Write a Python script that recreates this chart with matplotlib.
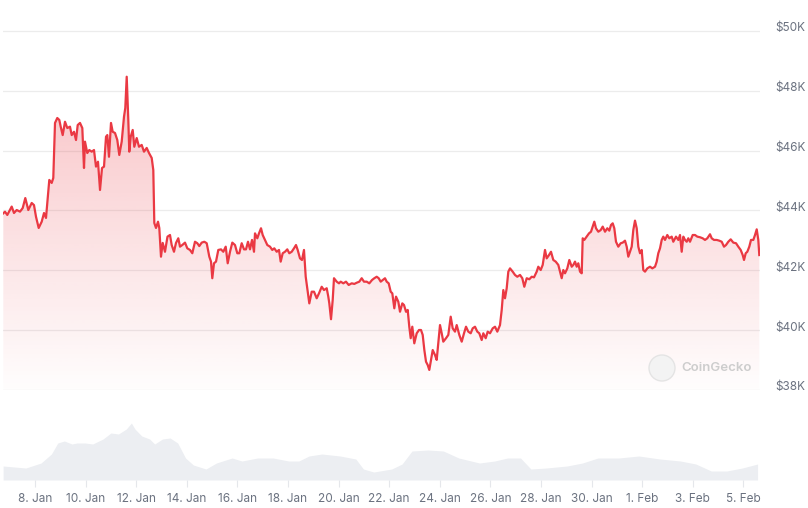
import numpy as np
import pandas as pd
import matplotlib
matplotlib.use("Agg")
import matplotlib.pyplot as plt
import matplotlib.dates as mdates
import matplotlib.transforms as mtransforms
from matplotlib.patches import Ellipse

plt.rcParams['font.family'] = ['Inter', 'DejaVu Sans']

# price readings: days after 2024-01-08 00:00, price in USD
days = [-1.253, -1.186, -1.095, -0.921, -0.830, -0.723, -0.593, -0.486, -0.383, -0.265,
        -0.130, -0.040, 0.040, 0.146, 0.265, 0.356, 0.435, 0.565, 0.660, 0.723,
        0.791, 0.881, 0.961, 1.016, 1.095, 1.186, 1.277, 1.383, 1.451, 1.542,
        1.621, 1.688, 1.779, 1.870, 1.937, 1.976, 2.067, 2.146, 2.241, 2.332,
        2.411, 2.490, 2.570, 2.649, 2.728, 2.807, 2.858, 2.925, 3.004, 3.071,
        3.162, 3.253, 3.332, 3.427, 3.518, 3.569, 3.625, 3.688, 3.727, 3.783,
        3.862, 3.925, 4.020, 4.111, 4.217, 4.308, 4.415, 4.506, 4.613, 4.676,
        4.716, 4.783, 4.862, 4.913, 4.980, 5.047, 5.138, 5.237, 5.336, 5.403,
        5.494, 5.573, 5.664, 5.731, 5.822, 5.929, 6.020, 6.127, 6.218, 6.324,
        6.415, 6.494, 6.589, 6.692, 6.787, 6.890, 6.957, 7.008, 7.075, 7.154,
        7.245, 7.352, 7.443, 7.538, 7.617, 7.708, 7.799, 7.905, 7.996, 8.075,
        8.170, 8.261, 8.340, 8.419, 8.498, 8.577, 8.656, 8.696, 8.787, 8.854,
        8.933, 9.000, 9.091, 9.182, 9.289, 9.379, 9.458, 9.553, 9.644, 9.711,
        9.791, 9.881, 9.972, 10.051, 10.146, 10.237, 10.316, 10.383, 10.474, 10.553,
        10.632, 10.700, 10.763, 10.842, 10.937, 11.028, 11.134, 11.225, 11.332, 11.423,
        11.530, 11.593, 11.633, 11.700, 11.767, 11.818, 11.925, 12.016, 12.083, 12.186,
        12.292, 12.399, 12.518, 12.621, 12.716, 12.818, 12.913, 13.004, 13.111, 13.213,
        13.320, 13.411, 13.506, 13.585, 13.664, 13.743, 13.834, 13.901, 13.980, 14.059,
        14.123, 14.202, 14.269, 14.360, 14.427, 14.518, 14.585, 14.664, 14.731, 14.794,
        14.850, 14.913, 14.992, 15.087, 15.178, 15.257, 15.324, 15.389, 15.455, 15.522,
        15.585, 15.652, 15.720, 15.810, 15.877, 15.941, 16.008, 16.075, 16.138, 16.245,
        16.336, 16.431, 16.510, 16.601, 16.668, 16.771, 16.866, 16.957, 17.036, 17.126,
        17.221, 17.300, 17.391, 17.482, 17.561, 17.656, 17.720, 17.814, 17.893, 17.984,
        18.091, 18.182, 18.273, 18.379, 18.447, 18.510, 18.577, 18.644, 18.708, 18.775,
        18.881, 18.972, 19.063, 19.170, 19.261, 19.340, 19.435, 19.538, 19.632, 19.723,
        19.830, 19.893, 19.988, 20.067, 20.158, 20.225, 20.316, 20.395, 20.486, 20.581,
        20.684, 20.751, 20.818, 20.881, 20.949, 21.040, 21.119, 21.214, 21.277, 21.344,
        21.411, 21.474, 21.542, 21.609, 21.648, 21.711, 21.806, 21.897, 21.976, 22.043,
        22.107, 22.174, 22.265, 22.360, 22.439, 22.530, 22.621, 22.700, 22.767, 22.834,
        22.897, 22.964, 23.055, 23.150, 23.229, 23.320, 23.387, 23.451, 23.518, 23.585,
        23.648, 23.715, 23.783, 23.846, 23.913, 23.980, 24.043, 24.111, 24.202, 24.308,
        24.399, 24.506, 24.573, 24.636, 24.704, 24.771, 24.834, 24.901, 24.992, 25.071,
        25.166, 25.229, 25.336, 25.427, 25.494, 25.561, 25.625, 25.692, 25.759, 25.822,
        25.889, 25.996, 26.087, 26.178, 26.285, 26.391, 26.482, 26.573, 26.680, 26.747,
        26.838, 26.945, 27.047, 27.142, 27.233, 27.312, 27.403, 27.498, 27.601, 27.708,
        27.798, 27.893, 27.972, 28.024, 28.091, 28.154, 28.233, 28.300, 28.391, 28.459,
        28.526, 28.589, 28.628]
price = [43905, 43960, 43850, 44130, 43915, 44015, 43960, 44080, 44415, 44015,
         44250, 44180, 43790, 43415, 43625, 43915, 43750, 45020, 44920, 45085,
         46925, 47090, 47025, 46800, 46520, 46965, 46755, 46800, 46520, 46630,
         46355, 46855, 46925, 46755, 45420, 46300, 45920, 46020, 45965, 46020,
         45465, 45630, 44685, 45420, 45465, 46465, 46520, 45795, 46925, 46630,
         46590, 46355, 45855, 46300, 47135, 47425, 48470, 47025, 45965, 46465,
         46690, 46130, 46420, 46130, 46190, 45965, 46090, 45920, 45755, 45350,
         43580, 43415, 43625, 43415, 42455, 42915, 42620, 43125, 43180, 42845,
         42620, 42915, 43070, 42790, 42845, 42925, 42735, 42680, 42570, 42955,
         42905, 42810, 42925, 42955, 42905, 42455, 42290, 41735, 42235, 42290,
         42680, 42700, 42620, 42790, 42235, 42620, 42925, 42845, 42570, 42570,
         42905, 42700, 42700, 42955, 42700, 43015, 42620, 43235, 43070, 43235,
         43405, 43180, 43015, 42845, 42790, 42680, 42735, 42620, 42680, 42290,
         42570, 42620, 42700, 42570, 42620, 42735, 42845, 42680, 42400, 42345,
         42680, 41785, 41400, 40895, 41285, 41285, 41065, 41230, 41450, 41340,
         41400, 41120, 40895, 40365, 41010, 41735, 41620, 41565, 41620, 41565,
         41620, 41510, 41565, 41545, 41585, 41620, 41735, 41620, 41620, 41565,
         41675, 41735, 41785, 41735, 41620, 41675, 41735, 41620, 41565, 41285,
         41230, 40730, 41120, 40950, 40615, 40895, 40840, 40615, 40675, 40115,
         39730, 40115, 39560, 39895, 40005, 40005, 39840, 39335, 38945, 38835,
         38670, 39005, 39335, 39170, 39005, 39560, 40170, 39895, 39615, 39730,
         39840, 40450, 40060, 39950, 40170, 39840, 39615, 39895, 40115, 39950,
         39895, 40060, 40115, 39950, 39895, 39670, 39895, 39730, 39950, 39895,
         40060, 40115, 39950, 40170, 40675, 41340, 41065, 41400, 41955, 42065,
         41955, 41845, 41785, 41845, 41735, 41450, 41735, 41700, 41785, 41765,
         41955, 42120, 42010, 42180, 42680, 42400, 42510, 42620, 42345, 42290,
         42180, 41955, 41735, 42010, 41900, 42065, 42345, 42120, 42180, 42290,
         42120, 42235, 41955, 41900, 43070, 43015, 43125, 43235, 43290, 43460,
         43625, 43405, 43290, 43345, 43460, 43290, 43405, 43325, 43515, 43570,
         43405, 42955, 42790, 42905, 42925, 42990, 42790, 42455, 42620, 42790,
         43345, 43660, 43405, 42790, 42570, 42680, 42010, 41955, 42065, 42120,
         42065, 42120, 42290, 42570, 42735, 43015, 43125, 43015, 43180, 43070,
         43125, 42955, 43125, 43015, 43180, 42620, 43125, 43015, 42955, 43070,
         42955, 43180, 43180, 43125, 43105, 43070, 43015, 43070, 43205, 43070,
         43015, 43015, 42990, 42955, 42790, 42845, 42955, 43035, 42925, 42905,
         42790, 42680, 42510, 42345, 42570, 42620, 42790, 43015, 43015, 43180,
         43370, 43015, 42510]

# 24h volume readings (USD billions)
vol_days = [-1.26, -0.36, 0.24, 0.65, 0.90, 1.16, 1.46, 1.66, 1.98, 2.28,
            2.69, 3.00, 3.30, 3.61, 3.81, 3.95, 4.22, 4.53, 4.73, 5.04,
            5.34, 5.64, 5.95, 6.26, 6.76, 7.17, 7.79, 8.18, 8.80, 9.41,
            10.03, 10.43, 10.83, 11.34, 12.06, 12.68, 12.98, 13.39, 14.10, 14.51,
            14.90, 15.53, 16.14, 16.75, 17.57, 18.17, 18.68, 19.19, 19.60, 20.21,
            21.03, 21.64, 22.25, 23.07, 23.87, 24.70, 25.51, 26.12, 26.73, 27.34,
            27.96, 28.56]
vol_values = [14, 12, 17, 26, 37, 39, 36, 37, 37, 36,
              41, 47, 46, 51, 57, 51, 44, 41, 36, 41,
              42, 37, 22, 15, 11, 17, 22, 19, 22, 22,
              19, 19, 24, 26, 24, 21, 11, 8, 11, 16,
              29, 30, 29, 22, 17, 19, 22, 22, 11, 12,
              14, 17, 22, 22, 24, 21, 19, 16, 9, 9,
              12, 16]

y_ticks = [38000, 40000, 42000, 44000, 46000, 48000, 50000]

base = pd.Timestamp("2024-01-08")
t = base + pd.to_timedelta(days, unit="D")
vt = base + pd.to_timedelta(vol_days, unit="D")
p = np.array(price, dtype=float)

red = "#ea3943"
grey_txt = "#6b7280"

fig = plt.figure(figsize=(8.08, 5.08), dpi=100)
ax = fig.add_axes([0.0037, 0.2323, 0.9369, 0.7677])
axv = fig.add_axes([0.0037, 0.0551, 0.9369, 0.1772], sharex=ax)

x0 = base + pd.Timedelta(days=-1.265)
x1 = base + pd.Timedelta(days=28.656)
ymin, ymax = 38000, 51034

# gradient fill under the line
fill = ax.fill_between(t, p, ymin, color="none", lw=0)
grad = np.linspace(0.01, 0.30, 256).reshape(-1, 1)
rgba = np.zeros((256, 1, 4))
rgba[..., 0], rgba[..., 1], rgba[..., 2] = 234/255, 57/255, 67/255
rgba[..., 3] = grad
top = p.max()
img = ax.imshow(rgba, aspect="auto", origin="lower",
                extent=[mdates.date2num(x0), mdates.date2num(x1), ymin, top], zorder=1)
path = fill.get_paths()[0]
img.set_clip_path(path, transform=ax.transData)

ax.plot(t, p, color=red, lw=1.6, zorder=3)

ax.set_xlim(x0, x1)
ax.set_ylim(ymin, ymax)
ax.set_yticks(y_ticks)
ax.set_yticklabels([f"${v // 1000}K" for v in y_ticks])
ax.yaxis.tick_right()
ax.tick_params(axis="y", length=0, pad=11, labelsize=8.5, labelcolor=grey_txt)
ax.tick_params(axis="x", which="both", bottom=False, labelbottom=False)
ax.grid(axis="y", color="#ececec", lw=0.9)
ax.set_axisbelow(True)
for s in ax.spines.values():
    s.set_visible(False)
off = mtransforms.ScaledTranslation(0, 4 / 100, fig.dpi_scale_trans)
for lab in ax.get_yticklabels():
    lab.set_transform(lab.get_transform() + off)

# volume
axv.fill_between(vt, vol_values, 0, color="#eceef2", lw=0)
axv.set_ylim(0, 90)
axv.set_yticks([])
for s in axv.spines.values():
    s.set_visible(False)
ticks = [base + pd.Timedelta(days=d) for d in range(0, 29, 2)]
axv.set_xticks(ticks)
axv.set_xticklabels([f"{d.day}. {d.strftime('%b')}" for d in ticks])
axv.tick_params(axis="x", length=5, color="#e5e7eb", pad=4, labelsize=8.5,
                labelcolor=grey_txt)

# watermark
fig.patches.append(Ellipse((662 / 808, 1 - 368 / 508), 26 / 808, 26 / 508,
                           transform=fig.transFigure, facecolor="#f3f3f3",
                           edgecolor="#e4e4e4", lw=1, zorder=5, figure=fig))
fig.text(681 / 808, 1 - 368 / 508, "CoinGecko", color="#cdcdcd", fontsize=9.5,
         va="center", ha="left", fontweight="semibold")

fig.savefig("out.png", dpi=100)
